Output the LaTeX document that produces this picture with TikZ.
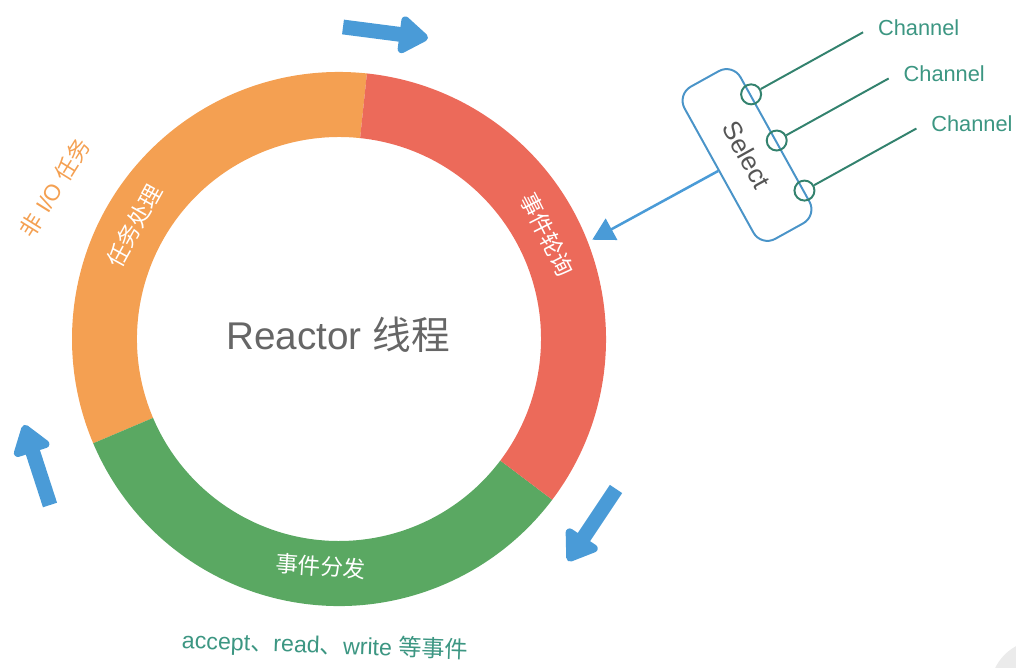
\documentclass[tikz,border=0pt]{standalone}
\usepackage{fontspec}
\setmainfont{Liberation Sans}
\newfontfamily\cjk{Noto Sans CJK SC}
\usetikzlibrary{arrows.meta,calc,positioning}
\definecolor{taskorange}{HTML}{F4A052}
\definecolor{pollred}{HTML}{EC6A5A}
\definecolor{dispgreen}{HTML}{5AA862}
\definecolor{flowblue}{HTML}{4A9BD7}
\definecolor{selblue}{HTML}{4A94C8}
\definecolor{chanteal}{HTML}{33826E}
\definecolor{chantext}{HTML}{3C9682}
\definecolor{titlegray}{HTML}{666666}
\definecolor{selgray}{HTML}{555555}
\definecolor{markgray}{HTML}{EBEBEB}
\newcommand{\zh}[1]{{\cjk #1}}

\begin{document}
\begin{tikzpicture}[
        x=0.025cm, y=0.025cm,
        seglabel/.style={text=white, font=\cjk\fontsize{16}{16}\selectfont},
        flowarrow/.style={draw=flowblue, line width=0.37cm, -{Triangle[length=0.8cm,width=1.05cm,round]}},
        selbox/.style={draw=selblue, line width=1.4pt, rounded corners=0.4cm, minimum width=4.35cm, minimum height=1.6cm, text=selgray, font=\fontsize{18.5}{18.5}\selectfont},
        pollarrow/.style={draw=flowblue, line width=1.8pt, -{Triangle[length=0.55cm,width=0.6cm]}, fill=flowblue},
        chanring/.style={circle, draw=chanteal, line width=1.4pt, minimum size=0.5cm, inner sep=0pt},
        chanline/.style={draw=chanteal, line width=1.4pt},
        chanlabel/.style={text=chantext, font=\fontsize{15.5}{15.5}\selectfont}
    ]
    \useasboundingbox (0,0) rectangle (1016,668);
    \coordinate (c) at (339,329);

    % the ring
    \foreach \from/\to/\col in {84/203/taskorange, 203/323/dispgreen, -37/84/pollred}
        \fill[\col, shift={(c)}] (\from:267) arc[start angle=\from, end angle=\to, radius=267]
            -- (\to:202) arc[start angle=\to, end angle=\from, radius=202] -- cycle;

    \node[seglabel, rotate=61] (task) at ($(c)+(151:234)$) {任务处理};
    \node[seglabel, rotate=-63] (poll) at ($(c)+(26.6:233)$) {事件轮询};
    \node[seglabel, rotate=-4] (disp) at ($(c)+(265.4:228)$) {事件分发};
    \node[text=titlegray, font=\fontsize{27.5}{27.5}\selectfont] (title) at (338,333) {Reactor \zh{线程}};
    \node[text=taskorange, font=\fontsize{16}{16}\selectfont, rotate=58] (nonio) at ($(c)+(152:322)$) {\zh{非} I/O \zh{任务}};
    \node[text=chantext, font=\fontsize{16.5}{16.5}\selectfont, rotate=-2] (events) at (325,22) {accept\zh{、}read\zh{、}write \zh{等事件}};

    % loop arrows
    \coordinate (topfrom) at (343,641);
    \coordinate (topto) at (428,630);
    \coordinate (rightfrom) at (616,179);
    \coordinate (rightto) at (568,107);
    \coordinate (leftfrom) at (50,163);
    \coordinate (leftto) at (24,243);
    \draw[flowarrow] (topfrom) -- (topto);
    \draw[flowarrow] (rightfrom) -- (rightto);
    \draw[flowarrow] (leftfrom) -- (leftto);

    % selector and channels
    \node[selbox, rotate=-61] (sel) at (747,513) {Select};
    \foreach \t [count=\i] in {0.21,0.51,0.835} {
        \node[chanring] (k\i) at ($(sel.north west)!\t!(sel.north east)$) {};
        \coordinate (e\i) at ($(k\i)+(29:128)$);
        \draw[chanline] (k\i) -- (e\i);
        \node[chanlabel, right=0.25cm of e\i, yshift=0.12cm] (ch\i) {Channel};
    }
    \coordinate (pin) at ($(c)+(21.4:272)$);
    \draw[pollarrow] (sel.south) -- (pin);

    \begin{scope}
        \clip (0,0) rectangle (1016,668);
        \fill[markgray] (1040,-22) circle[radius=50];
    \end{scope}
\end{tikzpicture}
\end{document}
